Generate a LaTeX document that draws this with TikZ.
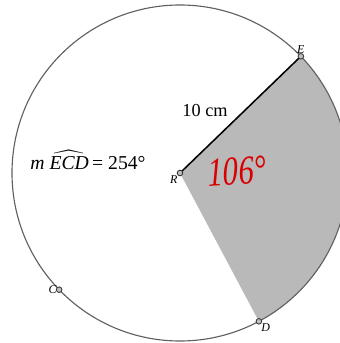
\documentclass[tikz,border=0pt]{standalone}
\usepackage{amsmath}
\usepackage{fontspec}
\setmainfont{Liberation Serif}
\usepackage{tikz}
\usetikzlibrary{calc}

\begin{document}
\begin{tikzpicture}[x=0.025cm,y=0.025cm]
    \useasboundingbox (-180,-170) rectangle (160,173);
    \coordinate (R) at (0,0);
    \coordinate (E) at (44:168);
    \coordinate (D) at (-62:168);
    \coordinate (C) at (-136:168);

    % Išpjova
    \fill[gray!55] (R) -- (E) arc[start angle=44, end angle=-62, radius=168] -- cycle;
    \draw[gray!75!black, line width=0.8pt] (R) circle (168);

    \draw[line width=1.1pt] (R) -- (E);

    \node (rad) at (25,62) {\fontsize{13}{15}\selectfont 10 cm};
    \node (arc) at (-92,13) {\fontsize{14}{16}\selectfont \textit{m} $\widehat{\text{\textit{ECD}}}$\,= 254\textdegree};
    \node[text=red!85!black, xscale=0.75, rotate=3] (ang) at (57,2) {\fontsize{29}{29}\selectfont\itshape 106\textdegree};

    \foreach \p/\pos in {E/above, R/below left, C/left, D/below right} {
        \filldraw[fill=gray!50, draw=black!80, line width=0.6pt] (\p) circle (2.8) node[\pos, inner sep=1.5pt, font=\fontsize{8.5}{10}\selectfont\itshape] {\p};
    }
\end{tikzpicture}
\end{document}
